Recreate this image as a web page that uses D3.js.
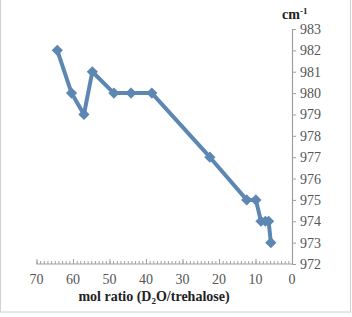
<!DOCTYPE html>
<html><head><meta charset="utf-8">
<script src="https://cdn.jsdelivr.net/npm/d3@7"></script>
<style>html,body{margin:0;padding:0;background:#fff;}svg{display:block;}
text{font-family:"Liberation Serif","Times New Roman",Times,serif;}</style>
</head><body>
<script>
const molRatio = [64.3, 60.4, 57.0, 54.7, 48.8, 44.1, 38.4, 22.5, 12.4, 9.9, 8.5, 7.3, 6.4, 5.8];
const wavenumber = [982, 980, 979, 981, 980, 980, 980, 977, 975, 975, 974, 974, 974, 973];
const xTicks = [70, 60, 50, 40, 30, 20, 10, 0];
const yTicks = [972, 973, 974, 975, 976, 977, 978, 979, 980, 981, 982, 983];

const W = 352, H = 317;
const svg = d3.select("body").append("svg").attr("width", W).attr("height", H);
svg.append("rect").attr("x", 0.5).attr("y", -1).attr("width", 350).attr("height", 313)
  .attr("fill", "#fff").attr("stroke", "#d0d0d0").attr("stroke-width", 1);

const x = d3.scaleLinear().domain([70, 0]).range([36.5, 292]);
const y = d3.scaleLinear().domain([972, 983]).range([264, 29]);
const axisColor = "#a0a0a0";
const font = "Liberation Serif";

// x axis
const gx = svg.append("g").attr("transform", `translate(0,${y(972)})`);
gx.call(d3.axisBottom(x).tickValues(d3.range(0, 71, 1)).tickSize(-3).tickFormat(""))
  .call(g => g.select(".domain").remove());
gx.selectAll("line").attr("stroke", axisColor);
gx.append("g").call(d3.axisBottom(x).tickValues(xTicks).tickSize(-5).tickFormat(""))
  .call(g => g.select(".domain").remove()).selectAll("line").attr("stroke", axisColor);
gx.append("line").attr("x1", x(70)).attr("x2", x(0)).attr("stroke", axisColor).attr("stroke-width", 1.2);
gx.selectAll(".xl").data(xTicks).enter().append("text").attr("class", "xl")
  .attr("x", d => x(d)).attr("y", 20).attr("text-anchor", "middle")
  .attr("font-family", font).attr("font-size", 14).attr("fill", "#555").text(d => d);

// y axis
const gy = svg.append("g").attr("transform", `translate(${x(0)},0)`);
gy.call(d3.axisRight(y).tickValues(yTicks).tickSize(4).tickPadding(4).tickFormat(d3.format("d")));
gy.select(".domain").attr("stroke", axisColor).attr("stroke-width", 1.2);
gy.selectAll("line").attr("stroke", axisColor);
gy.selectAll("text").attr("font-family", font).attr("font-size", 14).attr("fill", "#555");

// unit label
const unit = svg.append("text").attr("x", 282).attr("y", 19)
  .attr("font-family", font).attr("font-size", 14).attr("font-weight", "bold").attr("fill", "#222");
unit.append("tspan").text("cm");
unit.append("tspan").attr("dy", -5).attr("font-size", 9).text("-1");

// x title
const xt = svg.append("text").attr("x", 154).attr("y", 301).attr("text-anchor", "middle")
  .attr("font-family", font).attr("font-size", 14).attr("font-weight", "bold").attr("fill", "#222");
xt.append("tspan").text("mol ratio (D");
xt.append("tspan").attr("dy", 3).attr("font-size", 9).text("2");
xt.append("tspan").attr("dy", -3).text("O/trehalose)");

// data
const pts = molRatio.map((m, i) => [m, wavenumber[i]]);
const color = "#5d87b3";
svg.append("path").datum(pts)
  .attr("d", d3.line().x(d => x(d[0])).y(d => y(d[1])))
  .attr("fill", "none").attr("stroke", color).attr("stroke-width", 4).attr("stroke-linejoin", "round");
svg.selectAll(".pt").data(pts).enter().append("path").attr("class", "pt")
  .attr("transform", d => `translate(${x(d[0])},${y(d[1])})`)
  .attr("d", d3.symbol(d3.symbolDiamond2, 80)).attr("fill", color);
</script>
</body></html>
